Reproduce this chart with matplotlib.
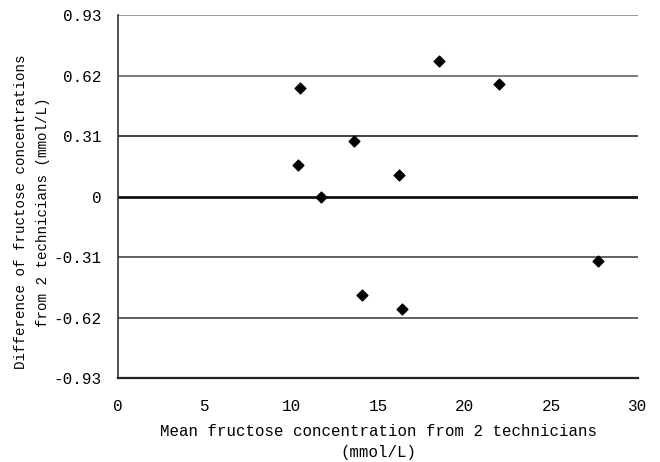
import numpy as np
import matplotlib.pyplot as plt

# Data
mean_conc = [10.4, 10.5, 11.7, 13.6, 18.5, 22.0, 16.2, 14.1, 16.4, 27.7]
diff_conc = [0.164, 0.558, 0.0, 0.282, 0.692, 0.574, 0.108, -0.507, -0.574, -0.328]
y_ticks = [-0.93, -0.62, -0.31, 0, 0.31, 0.62, 0.93]
y_tick_labels = ['-0.93', '-0.62', '-0.31', '0', '0.31', '0.62', '0.93']
x_ticks = [0, 5, 10, 15, 20, 25, 30]

plt.rcParams['font.family'] = ['Liberation Mono', 'DejaVu Sans Mono']

fig = plt.figure(figsize=(6.6, 4.62), dpi=100, facecolor='white')
ax = fig.add_axes([0.1788, 0.1818, 0.7879, 0.7857])

# horizontal reference lines
line_styles = {0.93: ('#888888', 1.2), 0.62: ('#666666', 1.2), 0.31: ('#333333', 1.3),
               0: ('#111111', 2.0), -0.31: ('#555555', 1.3), -0.62: ('#444444', 1.2)}
for yv, (col, lw) in line_styles.items():
    ax.axhline(yv, color=col, lw=lw, zorder=1)

ax.scatter(mean_conc, diff_conc, marker='D', s=30, color='black', zorder=3)

ax.set_xlim(0, 30)
ax.set_ylim(-0.93, 0.93)
ax.set_xticks(x_ticks)
ax.set_yticks(y_ticks)
ax.set_yticklabels(y_tick_labels)
ax.tick_params(length=0, labelsize=11.5, pad=12)
ax.tick_params(axis='x', pad=15)

for s in ['top', 'right']:
    ax.spines[s].set_visible(False)
ax.spines['left'].set_color('#333333')
ax.spines['left'].set_linewidth(1.2)
ax.spines['bottom'].set_color('#222222')
ax.spines['bottom'].set_linewidth(1.6)

# axis titles
fig.text(378 / 660, 1 - 442 / 462,
         'Mean fructose concentration from 2 technicians\n(mmol/L)',
         fontsize=11.3, linespacing=1.42, ha='center', va='center')
fig.text(32 / 660, 1 - 212 / 462,
         'Difference of fructose concentrations\nfrom 2 technicians (mmol/L)',
         fontsize=10.2, linespacing=1.68, ha='center', va='center', rotation=90)

fig.savefig('out.png', dpi=100)
